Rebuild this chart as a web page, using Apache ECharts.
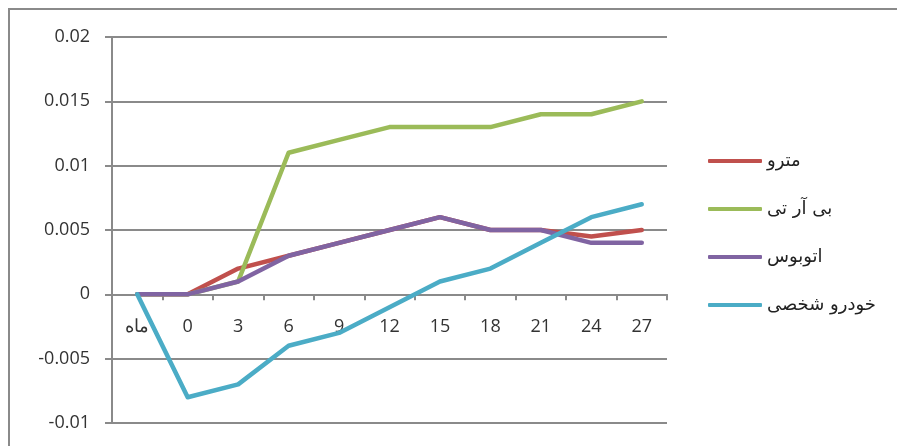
<!DOCTYPE html>
<html>
<head>
<meta charset="utf-8">
<script src="https://cdn.jsdelivr.net/npm/echarts@6/dist/echarts.min.js"></script>
<style>
html,body{margin:0;padding:0;background:#fff;width:897px;height:446px;overflow:hidden;}
#frame{position:absolute;left:8px;top:8px;width:1000px;height:600px;border-top:2px solid #8a8a8a;border-left:2px solid #8a8a8a;box-sizing:border-box;}
#chart{position:absolute;left:0;top:0;width:897px;height:446px;}
</style>
</head>
<body>
<div id="frame"></div>
<div id="chart"></div>
<script>
var categories = ['ماه','0','3','6','9','12','15','18','21','24','27'];
var seriesNames = ['مترو','بی آر تی','اتوبوس','خودرو شخصی'];
var metro = [0, 0, 0.002, 0.003, 0.004, 0.005, 0.006, 0.005, 0.005, 0.0045, 0.005];
var brt = [0, 0, 0.001, 0.011, 0.012, 0.013, 0.013, 0.013, 0.014, 0.014, 0.015];
var bus = [0, 0, 0.001, 0.003, 0.004, 0.005, 0.006, 0.005, 0.005, 0.004, 0.004];
var car = [0, -0.008, -0.007, -0.004, -0.003, -0.001, 0.001, 0.002, 0.004, 0.006, 0.007];
var colors = ['#C0504D','#9BBB59','#8064A2','#4BACC6'];

var chart = echarts.init(document.getElementById('chart'));
function mk(name, data, color){
  return {name:name, type:'line', data:data, symbol:'none', smooth:false,
    lineStyle:{width:4.5, color:color, cap:'round', join:'round'}, itemStyle:{color:color}};
}
var gridTop = 37, gridBottom = 23, plotH = 446 - gridTop - gridBottom;
var yMin = -0.01, yMax = 0.02;
var zeroOffset = -plotH * (0 - yMin) / (yMax - yMin);
chart.setOption({
  animation:false,
  backgroundColor:'transparent',
  grid:{left:112, right:230, top:gridTop, bottom:gridBottom, containLabel:false, outerBoundsMode:'none'},
  legend:{
    orient:'vertical', left:703, top:146, itemWidth:54, itemHeight:4, itemGap:28,
    icon:'roundRect',
    textStyle:{fontFamily:'DejaVu Sans', fontSize:18, color:'#222', lineHeight:20},
    data:seriesNames
  },
  xAxis:{
    type:'category', data:categories, boundaryGap:true, position:'bottom', offset:zeroOffset,
    axisLine:{onZero:false, lineStyle:{color:'#8a8a8a', width:2}},
    axisTick:{show:true, length:6, inside:false, lineStyle:{color:'#8a8a8a', width:2}},
    axisLabel:{margin:24, fontFamily:'Open Sans', fontSize:18, color:'#333', interval:0}
  },
  yAxis:{
    type:'value', min:yMin, max:yMax, interval:0.005,
    axisLine:{show:true, lineStyle:{color:'#8a8a8a', width:2}},
    axisTick:{show:true, length:7, lineStyle:{color:'#8a8a8a', width:2}},
    splitLine:{show:true, lineStyle:{color:'#8a8a8a', width:2}},
    axisLabel:{margin:22, fontFamily:'Open Sans', fontSize:18, color:'#333'}
  },
  series:[mk(seriesNames[0], metro, colors[0]), mk(seriesNames[1], brt, colors[1]),
          mk(seriesNames[2], bus, colors[2]), mk(seriesNames[3], car, colors[3])]
});
</script>
</body>
</html>
